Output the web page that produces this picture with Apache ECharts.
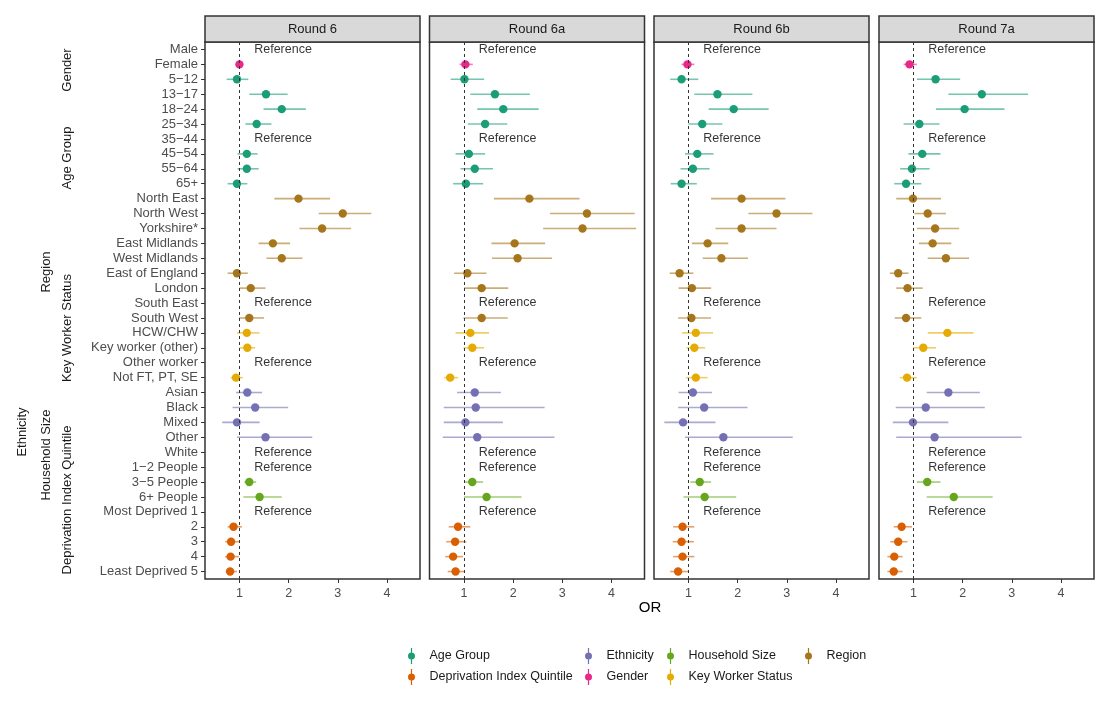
<!DOCTYPE html>
<html>
<head>
<meta charset="utf-8">
<script src="https://cdn.jsdelivr.net/npm/echarts@6/dist/echarts.min.js"></script>
<style>html,body{margin:0;padding:0;background:#fff}#c{width:1110px;height:714px}</style>
</head>
<body>
<div id="c"></div>
<script>
const ROWS = ['Male','Female','5\u221212','13\u221217','18\u221224','25\u221234','35\u221244','45\u221254','55\u221264','65+',
  'North East','North West','Yorkshire*','East Midlands','West Midlands','East of England','London','South East','South West',
  'HCW/CHW','Key worker (other)','Other worker','Not FT, PT, SE',
  'Asian','Black','Mixed','Other','White',
  '1\u22122 People','3\u22125 People','6+ People',
  'Most Deprived 1','2','3','4','Least Deprived 5'];
const ROW_GROUP = ['Gender','Gender',
  'Age Group','Age Group','Age Group','Age Group','Age Group','Age Group','Age Group','Age Group',
  'Region','Region','Region','Region','Region','Region','Region','Region','Region',
  'Key Worker Status','Key Worker Status','Key Worker Status','Key Worker Status',
  'Ethnicity','Ethnicity','Ethnicity','Ethnicity','Ethnicity',
  'Household Size','Household Size','Household Size',
  'Deprivation Index Quintile','Deprivation Index Quintile','Deprivation Index Quintile','Deprivation Index Quintile','Deprivation Index Quintile'];
const PANELS = ['Round 6','Round 6a','Round 6b','Round 7a'];
const GROUPS = ['Age Group','Deprivation Index Quintile','Ethnicity','Gender','Household Size','Key Worker Status','Region'];
const X_TICKS = [1,2,3,4];
const REF_X = 1.29;
const REF_LINE = 1;

const R6_OR = [null,1.00,0.95,1.54,1.86,1.35,null,1.15,1.15,0.95,2.20,3.10,2.68,1.68,1.86,0.95,1.23,null,1.20,1.15,1.16,null,0.93,1.16,1.32,0.95,1.53,null,null,1.20,1.41,null,0.88,0.83,0.82,0.81];
const R6_LO = [null,0.95,0.74,1.20,1.49,1.12,null,0.96,0.96,0.76,1.71,2.61,2.22,1.39,1.55,0.76,1.00,null,0.99,0.95,1.00,null,0.82,0.93,0.86,0.65,0.95,null,null,1.10,1.08,null,0.76,0.71,0.71,0.72];
const R6_HI = [null,1.06,1.18,1.98,2.35,1.65,null,1.37,1.39,1.16,2.84,3.68,3.27,2.03,2.28,1.17,1.53,null,1.50,1.41,1.32,null,1.07,1.46,1.99,1.41,2.48,null,null,1.34,1.86,null,1.05,0.99,0.99,0.95];

const R6A_OR = [null,1.03,1.01,1.63,1.80,1.43,null,1.10,1.22,1.04,2.33,3.50,3.41,2.03,2.09,1.07,1.36,null,1.36,1.13,1.17,null,0.72,1.22,1.24,1.03,1.27,null,null,1.17,1.46,null,0.88,0.82,0.78,0.83];
const R6A_LO = [null,0.91,0.73,1.13,1.27,1.08,null,0.83,0.93,0.78,1.61,2.75,2.61,1.56,1.57,0.80,1.00,null,0.99,0.83,0.99,null,0.60,0.86,0.59,0.59,0.57,null,null,1.00,1.00,null,0.69,0.64,0.62,0.67];
const R6A_HI = [null,1.18,1.41,2.34,2.52,1.88,null,1.43,1.59,1.39,3.35,4.47,4.50,2.65,2.79,1.46,1.90,null,1.89,1.51,1.41,null,0.88,1.75,2.64,1.79,2.84,null,null,1.39,2.17,null,1.13,1.05,0.98,1.01];

const R6B_OR = [null,0.98,0.86,1.59,1.92,1.28,null,1.18,1.09,0.86,2.08,2.79,2.08,1.39,1.67,0.82,1.07,null,1.06,1.15,1.12,null,1.15,1.09,1.32,0.89,1.71,null,null,1.23,1.33,null,0.88,0.86,0.88,0.79];
const R6B_LO = [null,0.86,0.63,1.12,1.41,1.00,null,0.93,0.84,0.64,1.46,2.22,1.55,1.07,1.29,0.62,0.80,null,0.79,0.87,0.96,null,0.95,0.80,0.79,0.51,0.93,null,null,1.04,0.90,null,0.69,0.68,0.69,0.63];
const R6B_HI = [null,1.12,1.20,2.30,2.63,1.69,null,1.51,1.43,1.17,2.97,3.52,2.79,1.81,2.21,1.10,1.46,null,1.46,1.50,1.34,null,1.39,1.48,2.20,1.55,3.12,null,null,1.46,1.97,null,1.12,1.11,1.12,1.00];

const R7A_OR = [null,0.92,1.45,2.39,2.04,1.12,null,1.18,0.97,0.85,0.99,1.29,1.44,1.39,1.66,0.69,0.88,null,0.85,1.69,1.20,null,0.87,1.71,1.25,0.99,1.43,null,null,1.28,1.82,null,0.76,0.69,0.61,0.60];
const R7A_LO = [null,0.80,1.07,1.71,1.46,0.80,null,0.90,0.73,0.61,0.65,1.02,1.07,1.11,1.29,0.52,0.65,null,0.62,1.29,0.99,null,0.72,1.27,0.64,0.58,0.65,null,null,1.07,1.27,null,0.60,0.53,0.47,0.47];
const R7A_HI = [null,1.07,1.95,3.33,2.85,1.53,null,1.55,1.33,1.16,1.56,1.66,1.93,1.77,2.13,0.90,1.19,null,1.16,2.22,1.46,null,1.07,2.35,2.45,1.71,3.20,null,null,1.55,2.61,null,0.97,0.88,0.78,0.78];

const PANEL_DATA = [[R6_OR,R6_LO,R6_HI],[R6A_OR,R6A_LO,R6A_HI],[R6B_OR,R6B_LO,R6B_HI],[R7A_OR,R7A_LO,R7A_HI]];

// ---- styling ----
const COLORS = {'Age Group':'#1B9E77','Deprivation Index Quintile':'#D95F02','Ethnicity':'#7570B3','Gender':'#E7298A','Household Size':'#66A61E','Key Worker Status':'#E6AB02','Region':'#A6761D'};
const FONT = "'Liberation Sans', Arial, sans-serif";
const GRID_LEFT = [205, 429.5, 654, 879];
const GRID_W = 215, GRID_TOP = 42, GRID_H = 537;
const X_MIN = 0.3, X_MAX = 4.67;

const chart = echarts.init(document.getElementById('c'), null, {renderer:'canvas'});

const grids = [], xAxes = [], yAxes = [], series = [], graphics = [];
PANELS.forEach((p, i) => {
  grids.push({left: GRID_LEFT[i], top: GRID_TOP, width: GRID_W, height: GRID_H, show: true,
    borderColor: '#333', borderWidth: 1.5, backgroundColor: '#fff', containLabel: false});
  xAxes.push({type:'value', gridIndex:i, min:X_MIN, max:X_MAX,
    axisLine:{show:false}, splitLine:{show:false},
    axisTick:{show:true, customValues:X_TICKS, length:4, inside:false, lineStyle:{color:'#333', width:1}},
    axisLabel:{show:true, customValues:X_TICKS, color:'#4d4d4d', fontSize:12.5, fontFamily:FONT, margin:8}});
  yAxes.push({type:'category', gridIndex:i, data:ROWS, inverse:true, boundaryGap:true,
    axisLine:{show:false}, splitLine:{show:false},
    axisTick:{show:i===0, alignWithLabel:true, length:4, lineStyle:{color:'#333', width:1}},
    axisLabel:{show:i===0, color:'#4d4d4d', fontSize:13, fontFamily:FONT, margin:7, interval:0}});
  const [OR, LO, HI] = PANEL_DATA[i];
  GROUPS.forEach(g => {
    const data = [];
    ROWS.forEach((r, k) => { if (ROW_GROUP[k] === g && OR[k] != null) data.push([OR[k], LO[k], HI[k], k]); });
    const col = COLORS[g];
    series.push({type:'custom', name:g, xAxisIndex:i, yAxisIndex:i, data:data,
      encode:{x:0, y:3}, itemStyle:{color:col}, clip:true,
      renderItem:function(params, api){
        const y = api.value(3);
        const a = api.coord([api.value(1), y]);
        const b = api.coord([api.value(2), y]);
        const c = api.coord([api.value(0), y]);
        return {type:'group', children:[
          {type:'line', shape:{x1:a[0], y1:a[1], x2:b[0], y2:b[1]}, style:{stroke:col, lineWidth:1.6, opacity:0.6}},
          {type:'circle', shape:{cx:c[0], cy:c[1], r:4.2}, style:{fill:col}}
        ]};
      }});
  });
  const refData = [];
  ROWS.forEach((r, k) => { if (OR[k] == null) refData.push([REF_X, k]); });
  series.push({type:'scatter', name:'ref'+i, xAxisIndex:i, yAxisIndex:i, data:refData,
    symbolSize:1, itemStyle:{color:'rgba(0,0,0,0)'}, silent:true,
    label:{show:true, position:'right', distance:0, formatter:'Reference', color:'#000', fontSize:12.5, fontFamily:FONT},
    markLine:{silent:true, symbol:'none', label:{show:false},
      lineStyle:{color:'#333', type:[3,3], width:1}, data:[{xAxis:REF_LINE}]}});
  // strip
  graphics.push({type:'rect', shape:{x:GRID_LEFT[i], y:16, width:GRID_W, height:GRID_TOP-16},
    style:{fill:'#d9d9d9', stroke:'#333', lineWidth:1.5}, z:10});
  graphics.push({type:'text', x:GRID_LEFT[i]+GRID_W/2, y:29,
    style:{text:p, fill:'#1a1a1a', font:'13px '+FONT, textAlign:'center', textVerticalAlign:'middle'}, z:11});
});

const groupTitles = [
  ['Gender',67,70],['Age Group',67,158],['Region',46,272],['Key Worker Status',67,328],
  ['Ethnicity',22,432],['Household Size',46,455],['Deprivation Index Quintile',67,500]];
groupTitles.forEach(t => graphics.push({type:'text', x:t[1], y:t[2], rotation:Math.PI/2,
  style:{text:t[0], fill:'#1a1a1a', font:'13px '+FONT, textAlign:'center', textVerticalAlign:'middle'}}));
graphics.push({type:'text', x:650, y:608, style:{text:'OR', fill:'#000', font:'15px '+FONT, textAlign:'center', textVerticalAlign:'middle'}});

const ICON = 'path://M4.4,0H5.6V16H4.4Z M1.5,8A3.5,3.5,0,1,1,8.5,8A3.5,3.5,0,1,1,1.5,8Z';
const legendCols = [[408, ['Age Group','Deprivation Index Quintile']], [585, ['Ethnicity','Gender']],
  [667, ['Household Size','Key Worker Status']], [805, ['Region']]];
const legends = legendCols.map(c => ({orient:'vertical', left:c[0], top:648, padding:0, itemGap:5,
  itemWidth:10, itemHeight:16, icon:ICON, selectedMode:false, data:c[1],
  textStyle:{color:'#1a1a1a', fontSize:12.5, fontFamily:FONT, padding:[0,0,0,8]}}));

chart.setOption({
  animation:false,
  backgroundColor:'#fff',
  grid:grids, xAxis:xAxes, yAxis:yAxes, series:series, legend:legends, graphic:graphics
});
</script>
</body>
</html>
